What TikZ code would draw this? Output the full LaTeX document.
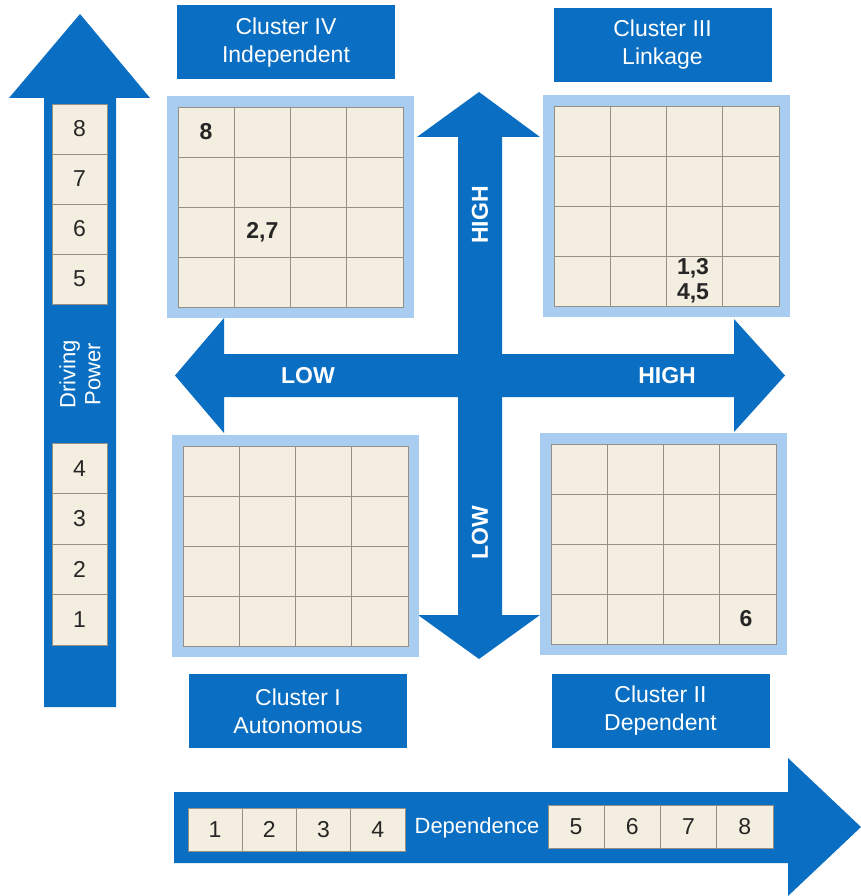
\documentclass[tikz,border=0pt]{standalone}
\usepackage{fontspec}
\setmainfont{Liberation Sans}
\usepackage{tikz}
\usetikzlibrary{positioning}
\definecolor{arrowblue}{HTML}{0A6FC2}
\definecolor{framefill}{HTML}{A9CDF0}
\definecolor{cellfill}{HTML}{F3EEDF}
\definecolor{cellline}{HTML}{968F86}
\tikzset{
  bigarrow/.style  = {fill=arrowblue, draw=none},
  frame/.style     = {fill=framefill, draw=none},
  cluster/.style   = {rectangle, fill=arrowblue, text=white, minimum width=218pt, minimum height=74pt,
                      inner sep=0pt, align=center, font=\fontsize{23}{28}\selectfont},
  scalebox/.style  = {rectangle, fill=cellfill, draw=cellline, line width=0.8pt, inner sep=0pt,
                      font=\fontsize{23}{28}\selectfont, text=black!85},
  celltag/.style   = {inner sep=0pt, align=center, font=\bfseries\fontsize{23}{25}\selectfont, text=black!85},
  axislabel/.style = {inner sep=0pt, text=white, font=\bfseries\fontsize{23}{28}\selectfont},
  scaletitle/.style= {inner sep=0pt, text=white, align=center, font=\fontsize{22}{25}\selectfont},
}
% 4x4 matrix panel, #1,#2 = top-left corner of the cell grid
\newcommand{\quadpanel}[2]{%
  \fill[framefill] ({#1-11},{#2-11}) rectangle ({#1+236},{#2+211});
  \draw[fill=cellfill, draw=cellline, line width=0.8pt] (#1,#2) rectangle ({#1+225},{#2+200});
  \foreach \gi in {1,2,3} {
    \draw[cellline, line width=0.8pt] ({#1+56.25*\gi},#2) -- ++(0,200);
    \draw[cellline, line width=0.8pt] (#1,{#2+50*\gi}) -- ++(225,0); }
}

\begin{document}
\begin{tikzpicture}[x=1pt, y=-1pt]
  \useasboundingbox (0,0) rectangle (861,896);

  %% ---------------- driving power scale (left) ----------------------------------------------
  \fill[bigarrow] (44,707) -- (44,98) -- (9,98) -- (80,14) -- (150,98) -- (116,98) -- (116,707) -- cycle;
  \foreach \v [count=\i from 0] in {8,7,6,5}
    \node[scalebox, minimum width=55pt, minimum height=50pt] (dp\v) at (79.5,{129+50*\i}) {\v};
  \foreach \v [count=\i from 0] in {4,3,2,1}
    \node[scalebox, minimum width=55pt, minimum height=50.5pt] (dp\v) at (79.5,{468.25+50.5*\i}) {\v};
  \node[scaletitle, rotate=90] (drivetitle) at (80,374) {Driving\\Power};

  %% ---------------- the cross -----------------------------------------------------------------
  \fill[bigarrow] (458,615) -- (458,137) -- (417,137) -- (479,92) -- (540,137) -- (502,137)
    -- (502,615) -- (540,615) -- (479,659) -- (418,615) -- cycle;
  \fill[bigarrow] (175,375.5) -- (224,318) -- (224,354) -- (734,354) -- (734,319) -- (785,375.5)
    -- (734,432) -- (734,397) -- (224,397) -- (224,433) -- cycle;
  \node[axislabel, rotate=90] (vhigh) at (480,215) {HIGH};
  \node[axislabel, rotate=90] (vlow)  at (480,533) {LOW};
  \node[axislabel] (hlow)  at (308,376) {LOW};
  \node[axislabel] (hhigh) at (667,376) {HIGH};

  %% ---------------- the four quadrants --------------------------------------------------------
  \quadpanel{178}{107}
  \quadpanel{554}{106}
  \quadpanel{183}{446}
  \quadpanel{551}{444}

  \node[celltag] (tag8)  at (206.1,132) {8};
  \node[celltag] (tag27) at (262.4,232) {2,7};
  \node[celltag] (tag1345) at (693,281) {1,3\\4,5};
  \node[celltag] (tag6)  at (746,619) {6};

  \node[cluster] (clusterIV)  at (286,42.5)  {Cluster IV\\Independent};
  \node[cluster] (clusterIII) at (662.5,45)  {Cluster III\\Linkage};
  \node[cluster] (clusterI)   at (298,711)   {Cluster I\\Autonomous};
  \node[cluster] (clusterII)  at (660.5,711) {Cluster II\\Dependent};

  %% ---------------- dependence scale (bottom) -------------------------------------------------
  \fill[bigarrow] (174,792) -- (788,792) -- (788,758) -- (861,827) -- (788,896) -- (788,863) -- (174,863) -- cycle;
  \foreach \v [count=\i from 0] in {1,2,3,4}
    \node[scalebox, minimum width=54.25pt, minimum height=43pt] (dep\v) at ({215.1+54.25*\i},829.5) {\v};
  \node[scaletitle] (deptitle) at (477,828) {Dependence};
  \foreach \v [count=\i from 0] in {5,6,7,8}
    \node[scalebox, minimum width=56.25pt, minimum height=43pt] (dep\v) at ({576.1+56.25*\i},826.5) {\v};
\end{tikzpicture}
\end{document}
